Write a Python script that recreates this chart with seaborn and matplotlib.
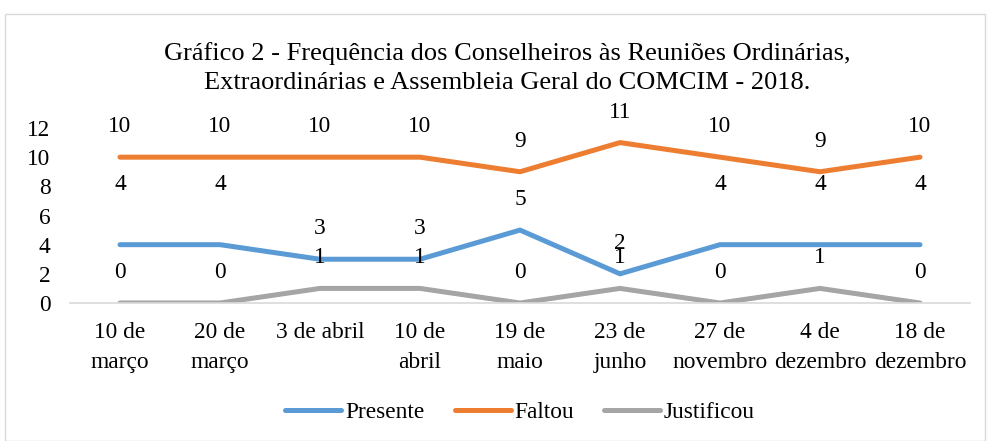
import matplotlib
matplotlib.use("Agg")
import matplotlib.pyplot as plt
import seaborn as sns
import pandas as pd
from matplotlib.patches import Rectangle

categories = ["10 de\nmarço", "20 de\nmarço", "3 de abril", "10 de\nabril", "19 de\nmaio",
              "23 de\njunho", "27 de\nnovembro", "4 de\ndezembro", "18 de\ndezembro"]
presente = [4, 4, 3, 3, 5, 2, 4, 4, 4]
faltou = [10, 10, 10, 10, 9, 11, 10, 9, 10]
justificou = [0, 0, 1, 1, 0, 1, 0, 1, 0]
series_names = ["Presente", "Faltou", "Justificou"]
colors = ["#5B9BD5", "#ED7D31", "#A5A5A5"]
title = "Gráfico 2 - Frequência dos Conselheiros às Reuniões Ordinárias,\nExtraordinárias e Assembleia Geral do COMCIM - 2018."

sns.set_theme(style="white")
plt.rcParams['font.family'] = ['Liberation Serif', 'DejaVu Serif']
plt.rcParams['text.color'] = 'black'

rows = []
for name, vals in zip(series_names, [presente, faltou, justificou]):
    for c, v in zip(categories, vals):
        rows.append({"cat": c, "val": v, "serie": name})
df = pd.DataFrame(rows)

FS = 16.8

fig = plt.figure(figsize=(9.9, 4.41), dpi=100)
fig.patches.append(Rectangle((5/990, 0), 980/990, (441-14)/441, transform=fig.transFigure,
                             fill=False, edgecolor="#D9D9D9", linewidth=1.0))
ax = fig.add_axes([70/990, 138/441, 900/990, 175/441])

sns.lineplot(data=df, x="cat", y="val", hue="serie", palette=colors, sort=False,
             linewidth=3.6, ax=ax, legend=True)
for line in ax.get_lines():
    line.set_solid_capstyle("round")

ax.set_ylim(0, 12)
ax.set_xlim(-0.5, len(categories) - 0.5)
ax.set_yticks(range(0, 13, 2))
ax.set_xlabel("")
ax.set_ylabel("")
for s in ["top", "right", "left"]:
    ax.spines[s].set_visible(False)
ax.spines["bottom"].set_color("#D9D9D9")
ax.spines["bottom"].set_linewidth(1.2)
ax.tick_params(axis="both", length=0, labelsize=FS, colors="black")
ax.tick_params(axis="y", pad=14)
ax.tick_params(axis="x", pad=14)
for t in ax.get_xticklabels():
    t.set_linespacing(1.55)
ax.set_axisbelow(False)

for name, vals in zip(series_names, [presente, faltou, justificou]):
    for i, v in enumerate(vals):
        off = 22
        if name == "Presente" and v == 4:
            off = 43
        ax.annotate(str(v), (i, v), xytext=(0, off), textcoords="offset points",
                    ha="center", va="center", fontsize=FS, color="black")

fig.text(507/990, 1 - 68/441, title, ha="center", va="center", fontsize=19,
         linespacing=1.42, color="black")

handles, labels = ax.get_legend_handles_labels()
leg = ax.legend(handles, labels, loc="center", bbox_to_anchor=(0.5, (441-412-138)/175),
                bbox_transform=ax.transAxes, ncol=3, frameon=False, fontsize=FS,
                handlelength=2.4, handletextpad=0.15, columnspacing=1.3)
for t in leg.get_texts():
    t.set_color("black")

fig.savefig("out.png", dpi=100, facecolor="white")
